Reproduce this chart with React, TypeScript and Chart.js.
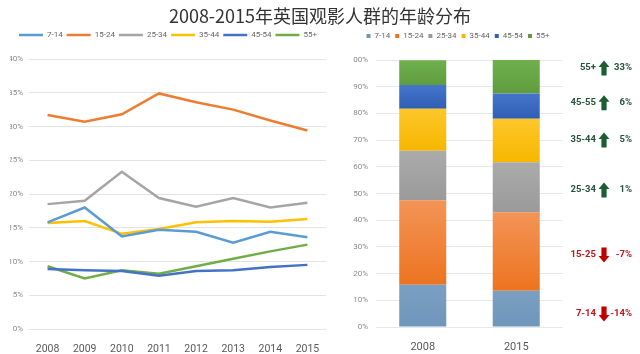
import React, { useEffect, useRef } from "react";
import { Chart, registerables } from "chart.js";

Chart.register(...registerables);

const TITLE = "2008-2015年英国观影人群的年龄分布";
const YEARS = ["2008", "2009", "2010", "2011", "2012", "2013", "2014", "2015"];
const GROUPS = ["7-14", "15-24", "25-34", "35-44", "45-54", "55+"];

const S_7_14 = [15.8, 18.0, 13.7, 14.7, 14.4, 12.8, 14.4, 13.6];
const S_15_24 = [31.7, 30.7, 31.8, 34.9, 33.6, 32.5, 30.9, 29.4];
const S_25_34 = [18.5, 19.0, 23.3, 19.4, 18.1, 19.4, 18.0, 18.7];
const S_35_44 = [15.7, 16.0, 14.1, 14.8, 15.8, 16.0, 15.9, 16.3];
const S_45_54 = [8.9, 8.7, 8.6, 7.9, 8.6, 8.7, 9.2, 9.5];
const S_55_PLUS = [9.3, 7.5, 8.7, 8.2, 9.3, 10.4, 11.5, 12.5];
const SERIES = [S_7_14, S_15_24, S_25_34, S_35_44, S_45_54, S_55_PLUS];

const BAR_YEARS = ["2008", "2015"];
const SHARE_2008 = [15.8, 31.7, 18.5, 15.7, 8.9, 9.3];
const SHARE_2015 = [13.6, 29.4, 18.7, 16.3, 9.5, 12.5];

const LEFT_TICKS = [0, 5, 10, 15, 20, 25, 30, 35, 40];
const RIGHT_TICKS = [0, 10, 20, 30, 40, 50, 60, 70, 80, 90, 100];

// Change notes on the right of the stacked bars
const NOTE_LABELS = ["55+", "45-55", "35-44", "25-34", "15-25", "7-14"];
const NOTE_CHANGES = ["33%", "6%", "5%", "1%", "-7%", "-14%"];
const NOTE_UP = [true, true, true, true, false, false];
const NOTE_LEVELS = [97, 84, 70, 51.3, 27, 4.9];

const LINE_COLORS = ["#5b9bd5", "#ed7d31", "#a5a5a5", "#ffc000", "#4472c4", "#70ad47"];
const BAR_TOP = ["#7a9fc2", "#f39457", "#ababab", "#fdc72a", "#4576cc", "#6fb04c"];
const BAR_BOTTOM = ["#6f96bb", "#ec7420", "#9a9a9a", "#f6b700", "#2f5eb3", "#5f9c3e"];

const FONT = "Roboto, 'Noto Sans', 'Noto Sans CJK SC', sans-serif";

const legendGap = (extra: number) => ({
  id: "legendGap",
  beforeInit(chart: any) {
    const l = chart.legend;
    if (!l) return;
    const orig = l.fit;
    l.fit = function () {
      orig.call(this);
      this.height += extra;
    };
  },
});

const notesPlugin = {
  id: "notes",
  afterDraw(chart: any) {
    const { ctx, chartArea, scales } = chart;
    const y = scales.y;
    ctx.save();
    NOTE_LABELS.forEach((label, i) => {
      const yy = y.getPixelForValue(NOTE_LEVELS[i]);
      const up = NOTE_UP[i];
      const textColor = up ? "#24543a" : "#c0141c";
      const arrowColor = up ? "#1b5e31" : "#c00000";
      const ax = chartArea.right + 41;
      ctx.font = "bold 9.5px " + FONT;
      ctx.fillStyle = textColor;
      ctx.textBaseline = "middle";
      ctx.textAlign = "right";
      ctx.fillText(label, chartArea.right + 33, yy);
      ctx.fillText(NOTE_CHANGES[i], chartArea.right + 69, yy);
      // block arrow
      const h = 15, hw = 5.5, hh = 6.5, sw = 2.6;
      ctx.fillStyle = arrowColor;
      ctx.beginPath();
      if (up) {
        const top = yy - h / 2;
        ctx.moveTo(ax, top);
        ctx.lineTo(ax + hw, top + hh);
        ctx.lineTo(ax + sw, top + hh);
        ctx.lineTo(ax + sw, top + h);
        ctx.lineTo(ax - sw, top + h);
        ctx.lineTo(ax - sw, top + hh);
        ctx.lineTo(ax - hw, top + hh);
      } else {
        const bot = yy + h / 2;
        ctx.moveTo(ax, bot);
        ctx.lineTo(ax + hw, bot - hh);
        ctx.lineTo(ax + sw, bot - hh);
        ctx.lineTo(ax + sw, bot - h);
        ctx.lineTo(ax - sw, bot - h);
        ctx.lineTo(ax - sw, bot - hh);
        ctx.lineTo(ax - hw, bot - hh);
      }
      ctx.closePath();
      ctx.fill();
    });
    ctx.restore();
  },
};

export default function App() {
  const leftRef = useRef<HTMLCanvasElement>(null);
  const rightRef = useRef<HTMLCanvasElement>(null);

  useEffect(() => {
    const left = new Chart(leftRef.current as HTMLCanvasElement, {
      type: "line",
      data: {
        labels: YEARS,
        datasets: GROUPS.map((g, i) => ({
          label: g,
          data: SERIES[i],
          borderColor: LINE_COLORS[i],
          backgroundColor: LINE_COLORS[i],
          borderWidth: 2.5,
          pointRadius: 0,
          tension: 0,
          fill: false,
        })),
      },
      options: {
        responsive: false,
        animation: false,
        layout: { padding: { top: 27, right: 9, left: 10, bottom: 0 } },
        plugins: {
          tooltip: { enabled: false },
          legend: {
            position: "top",
            labels: {
              usePointStyle: true,
              pointStyle: "line",
              pointStyleWidth: 24,
              font: { size: 8, family: FONT },
              color: "#666666",
              padding: 4,
            },
          },
        },
        scales: {
          x: {
            offset: true,
            grid: { display: false },
            border: { display: false },
            ticks: { font: { size: 10.5, family: FONT }, color: "#595959", padding: 6 },
            afterFit: (s: any) => {
              s.height = 25;
            },
          },
          y: {
            min: 0,
            max: 40,
            afterBuildTicks: (s: any) => {
              s.ticks = LEFT_TICKS.map((v) => ({ value: v }));
            },
            ticks: {
              callback: (v: any) => v + "%",
              font: { size: 8, family: FONT },
              color: "#8a8a8a",
              padding: 6,
            },
            grid: { color: "#e3e3e3", drawTicks: false },
            border: { display: false },
            afterFit: (s: any) => {
              s.width = 19;
            },
          },
        },
      },
      plugins: [legendGap(10)],
    } as any);

    const grad = (i: number) => (c: any) => {
      const chart = c.chart;
      const area = chart.chartArea;
      if (!area || c.type !== "data") return BAR_BOTTOM[i];
      const y = chart.scales.y;
      let start = 0;
      for (let k = 0; k < c.datasetIndex; k++) start += chart.data.datasets[k].data[c.dataIndex];
      const end = start + chart.data.datasets[c.datasetIndex].data[c.dataIndex];
      const y0 = y.getPixelForValue(end);
      const y1 = y.getPixelForValue(start);
      if (!isFinite(y0) || !isFinite(y1) || y0 === y1) return BAR_BOTTOM[i];
      const g = chart.ctx.createLinearGradient(0, y0, 0, y1);
      g.addColorStop(0, BAR_TOP[i]);
      g.addColorStop(1, BAR_BOTTOM[i]);
      return g;
    };

    const right = new Chart(rightRef.current as HTMLCanvasElement, {
      type: "bar",
      data: {
        labels: BAR_YEARS,
        datasets: GROUPS.map((g, i) => ({
          label: g,
          data: [SHARE_2008[i], SHARE_2015[i]],
          backgroundColor: grad(i),
          borderWidth: 0,
          barPercentage: 0.503,
          categoryPercentage: 1,
        })),
      },
      options: {
        responsive: false,
        animation: false,
        layout: { padding: { top: 27, right: 77, left: 18, bottom: 0 } },
        plugins: {
          tooltip: { enabled: false },
          legend: {
            position: "top",
            labels: {
              boxWidth: 4,
              boxHeight: 4,
              font: { size: 8, family: FONT },
              color: "#666666",
              padding: 5,
              generateLabels: (chart: any) =>
                chart.data.datasets.map((d: any, i: number) => ({
                  text: d.label,
                  fillStyle: BAR_BOTTOM[i],
                  strokeStyle: BAR_BOTTOM[i],
                  lineWidth: 0,
                  hidden: false,
                  datasetIndex: i,
                  fontColor: "#666666",
                })),
            },
          },
        },
        scales: {
          x: {
            stacked: true,
            grid: { display: false },
            border: { display: false },
            ticks: { font: { size: 11, family: FONT }, color: "#595959", padding: 6 },
            afterFit: (s: any) => {
              s.height = 27;
            },
          },
          y: {
            stacked: true,
            min: 0,
            max: 100,
            afterBuildTicks: (s: any) => {
              s.ticks = RIGHT_TICKS.map((v) => ({ value: v }));
            },
            ticks: {
              callback: (v: any) => v + "%",
              font: { size: 8, family: FONT },
              color: "#8a8a8a",
              padding: 8,
            },
            grid: { color: "#e8e8e8", drawTicks: false },
            border: { display: false },
            afterFit: (s: any) => {
              s.width = 23;
            },
          },
        },
      },
      plugins: [legendGap(10), notesPlugin],
    } as any);

    return () => {
      left.destroy();
      right.destroy();
    };
  }, []);

  return (
    <div
      style={{
        position: "fixed",
        left: 0,
        top: 0,
        width: 640,
        height: 354,
        background: "#ffffff",
        overflow: "hidden",
      }}
    >
      <canvas
        ref={leftRef}
        width={335}
        height={354}
        style={{ position: "absolute", left: 0, top: 0, width: 335, height: 354 }}
      />
      <canvas
        ref={rightRef}
        width={305}
        height={354}
        style={{ position: "absolute", left: 335, top: 0, width: 305, height: 354 }}
      />
      <div
        style={{
          position: "absolute",
          left: 0,
          top: 2,
          width: 640,
          textAlign: "center",
          fontFamily: "'Noto Sans CJK SC', 'Noto Sans', sans-serif",
          fontSize: 18,
          lineHeight: "26px",
          color: "#333333",
        }}
      >
        {TITLE}
      </div>
    </div>
  );
}
